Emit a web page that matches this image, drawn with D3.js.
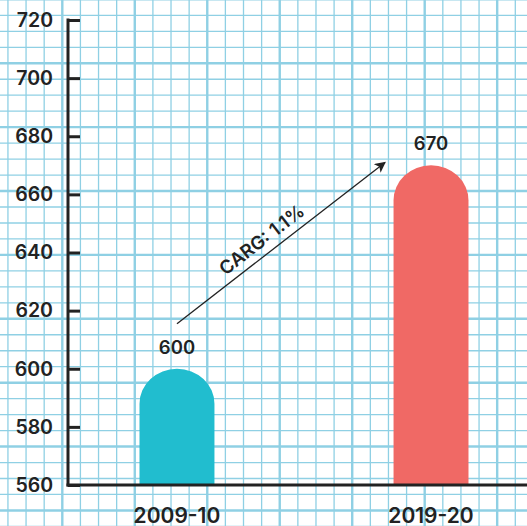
<!DOCTYPE html>
<html lang="en">
<head>
    <meta charset="UTF-8">
    <title>CARG bar chart</title>
    <script src="https://cdn.jsdelivr.net/npm/d3@7"></script>
    <style>
        html, body{
            margin: 0;
            padding: 0;
            background: #fff;
        }
        svg text{
            font-family: Inter, "Open Sans", sans-serif;
            fill: #222;
        }
    </style>
</head>
<body>
<svg id="chart" width="527" height="526"></svg>
<script>
    // data
    let years = ["2009-10", "2019-20"]
    let values = [600, 670]
    let barColors = ["#21bdcf", "#f06965"]
    let yTicks = [560, 580, 600, 620, 640, 660, 680, 700, 720]
    let growthLabel = "CARG: 1.1%"

    let W = 527, H = 526
    let svg = d3.select("#chart")

    // graph paper background
    let grid = svg.append("g")
    let minorX = 18.12, minorY = 15.97
    d3.range(-4, 30).forEach(function(i){
        let x = 62.3 + i * minorX
        if (x < -2 || x > W + 2) return
        grid.append("line")
            .attr("x1", x).attr("x2", x).attr("y1", 0).attr("y2", H)
            .attr("stroke", "#8fd0e4")
            .attr("stroke-width", i % 4 === 0 ? 2.4 : 1.3)
    })
    d3.range(-1, 34).forEach(function(i){
        let y = -0.6 + i * minorY
        if (y < -2 || y > H + 2) return
        grid.append("line")
            .attr("x1", 0).attr("x2", W).attr("y1", y).attr("y2", y)
            .attr("stroke", "#8fd0e4")
            .attr("stroke-width", i % 4 === 0 ? 2.4 : 1.3)
    })

    // scales
    let x = d3.scaleBand()
        .domain(years)
        .range([68, 540])
        .paddingInner(0.705)
        .paddingOuter(0.2815)
    let y = d3.scaleLinear()
        .domain([560, 720])
        .range([485, 20])

    // bars with round tops
    let bw = x.bandwidth()
    let r = bw / 2
    function barPath(d, i){
        let x0 = x(years[i]), x1 = x0 + bw
        let top = y(d), base = y(560)
        let ry = 35
        return "M" + x0 + "," + base +
            "L" + x0 + "," + (top + ry) +
            "A" + r + "," + ry + " 0 0 1 " + x1 + "," + (top + ry) +
            "L" + x1 + "," + base + "Z"
    }
    svg.append("g").selectAll("path")
        .data(values)
        .enter()
        .append("path")
        .attr("d", barPath)
        .attr("fill", function(d, i){ return barColors[i] })

    // value labels
    svg.append("g").selectAll("text")
        .data(values)
        .enter()
        .append("text")
        .attr("x", function(d, i){ return x(years[i]) + bw / 2 })
        .attr("y", function(d){ return y(d) - 15 })
        .attr("text-anchor", "middle")
        .attr("font-size", "18.5px")
        .attr("font-weight", 600)
        .text(function(d){ return d })

    // y axis
    let yAxis = svg.append("g")
        .attr("transform", "translate(68,0)")
        .call(d3.axisRight(y).tickValues(yTicks).tickSize(12))
    yAxis.select(".domain").remove()
    yAxis.selectAll(".tick line").attr("stroke", "#222").attr("stroke-width", 3)
    yAxis.selectAll(".tick text")
        .attr("x", -15)
        .attr("text-anchor", "end")
        .attr("font-size", "19.5px")
        .attr("font-weight", 600)
        .attr("fill", "#222")
        .attr("font-family", "Inter, 'Open Sans', sans-serif")

    // axis lines
    svg.append("line")
        .attr("x1", 68).attr("x2", 68).attr("y1", y(720) - 1.5).attr("y2", y(560) + 1.5)
        .attr("stroke", "#222").attr("stroke-width", 3)
    svg.append("line")
        .attr("x1", 66.5).attr("x2", W).attr("y1", y(560)).attr("y2", y(560))
        .attr("stroke", "#222").attr("stroke-width", 3)

    // x labels
    svg.append("g").selectAll("text")
        .data(years)
        .enter()
        .append("text")
        .attr("x", function(d){ return x(d) + bw / 2 })
        .attr("y", 523)
        .attr("text-anchor", "middle")
        .attr("font-size", "21px")
        .attr("font-weight", 600)
        .text(function(d){ return d })

    // growth arrow
    svg.append("defs").append("marker")
        .attr("id", "arrow")
        .attr("viewBox", "0 0 10 10")
        .attr("refX", 9).attr("refY", 5)
        .attr("markerWidth", 11).attr("markerHeight", 11)
        .attr("markerUnits", "userSpaceOnUse")
        .attr("orient", "auto")
        .append("path")
        .attr("d", "M0,0L10,5L0,10L2.5,5Z")
        .attr("fill", "#222")
    let ax1 = x(years[0]) + bw / 2, ay1 = y(615.5)
    let ax2 = x(years[1]) + bw / 2 - 46, ay2 = y(671)
    svg.append("line")
        .attr("x1", ax1).attr("y1", ay1)
        .attr("x2", ax2).attr("y2", ay2)
        .attr("stroke", "#222").attr("stroke-width", 1.3)
        .attr("marker-end", "url(#arrow)")
    let ang = Math.atan2(ay2 - ay1, ax2 - ax1) * 180 / Math.PI
    let t = 0.45
    let mx = ax1 + t * (ax2 - ax1), my = ay1 + t * (ay2 - ay1)
    svg.append("text")
        .attr("transform", "translate(" + mx + "," + my + ") rotate(" + ang + ")")
        .attr("text-anchor", "middle")
        .attr("y", -8)
        .attr("font-size", "18.5px")
        .attr("font-weight", 600)
        .text(growthLabel)
</script>
</body>
</html>
